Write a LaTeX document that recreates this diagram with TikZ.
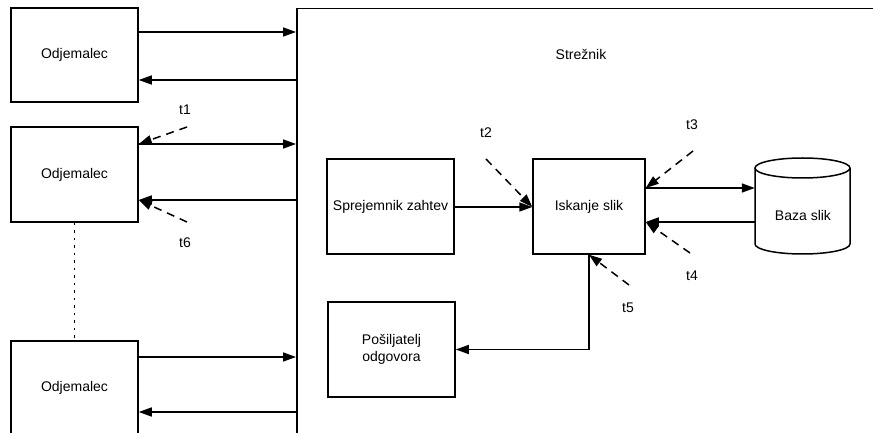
\documentclass[tikz,border=0pt]{standalone}
\usepackage{fontspec}
\setmainfont{Liberation Sans}
\usetikzlibrary{arrows.meta}
\begin{document}
\begin{tikzpicture}[x=1bp,y=-1bp,
  lw/.style={line width=1.5bp},
  box/.style={draw, lw, rectangle, inner sep=0pt, align=center},
  arr/.style={lw, -{Triangle[length=13bp,width=9bp]}},
  darr/.style={arr, dash pattern=on 8bp off 6bp},
  lbl/.style={inner sep=0pt},
  every node/.style={font=\fontsize{14bp}{16.8bp}\selectfont}]
\useasboundingbox (0,0) rectangle (873,433);
\clip (0,0) rectangle (873,433);
% server container
\node[box, minimum width=600bp, minimum height=450bp, anchor=north west] (srv) at (296,8) {};
\node[lbl] (srvl) at (581,54) {Strežnik};
% clients
\node[box, minimum width=127bp, minimum height=94bp] (c1) at (74.5,55) {Odjemalec};
\node[box, minimum width=127bp, minimum height=95bp] (c2) at (74.5,174.5) {Odjemalec};
\node[box, minimum width=127bp, minimum height=94bp] (c3) at (74.5,388) {Odjemalec};
% server parts
\node[box, minimum width=127bp, minimum height=95bp] (spr) at (390.5,206.5) {Sprejemnik zahtev};
\node[box, minimum width=112bp, minimum height=95bp] (isk) at (589,206.5) {Iskanje slik};
\node[box, minimum width=127bp, minimum height=95bp] (pos) at (391.5,349.5) {Pošiljatelj\\odgovora};
% database cylinder
\node[inner sep=0pt, minimum width=95bp, minimum height=96bp] (baza) at (802.5,206) {};
\draw[lw] (802.5,168) ellipse [x radius=47.5bp, y radius=10bp];
\draw[lw] (755,168) -- (755,244) arc[start angle=180, end angle=360, x radius=47.5bp, y radius=10bp] -- (850,168);
\node[lbl] (bazal) at (803,215) {Baza slik};
% client <-> server
\draw[arr] (c1.east |- 0,32) -- (srv.west |- 0,32);
\draw[arr] (srv.west |- 0,80) -- (c1.east |- 0,80);
\draw[arr] (c2.east |- 0,144) -- (srv.west |- 0,144);
\draw[arr] (srv.west |- 0,200) -- (c2.east |- 0,200);
\draw[arr] (c3.east |- 0,357) -- (srv.west |- 0,357);
\draw[arr] (srv.west |- 0,412) -- (c3.east |- 0,412);
\draw[lw, dash pattern=on 2.5bp off 5bp] (c2.south) -- (c3.north);
% inside server
\draw[arr] (spr.east |- 0,207) -- (isk.west |- 0,207);
\draw[arr] (isk.east |- 0,188) -- (baza.west |- 0,188);
\draw[arr] (baza.west |- 0,222) -- (isk.east |- 0,222);
\draw[arr] (isk.south) |- (pos.east);
% timing markers
\coordinate (t1s) at (187,127);
\coordinate (t2s) at (486,159);
\coordinate (t3s) at (693,151);
\coordinate (t4s) at (690,253);
\coordinate (t5s) at (629,285);
\coordinate (t6s) at (187,222);
\draw[darr] (t1s) -- (c2.east |- 0,144);
\draw[darr] (t2s) -- (isk.west |- 0,207);
\draw[darr] (t3s) -- (isk.east |- 0,188);
\draw[darr] (t4s) -- (isk.east |- 0,222);
\draw[darr] (t5s) -- (isk.south);
\draw[darr] (t6s) -- (c2.east |- 0,200);
\node[lbl] (t1) at (185,110) {t1};
\node[lbl] (t2) at (486,133) {t2};
\node[lbl] (t3) at (692,125) {t3};
\node[lbl] (t4) at (692,276) {t4};
\node[lbl] (t5) at (628,308) {t5};
\node[lbl] (t6) at (185,243) {t6};
\end{tikzpicture}
\end{document}
